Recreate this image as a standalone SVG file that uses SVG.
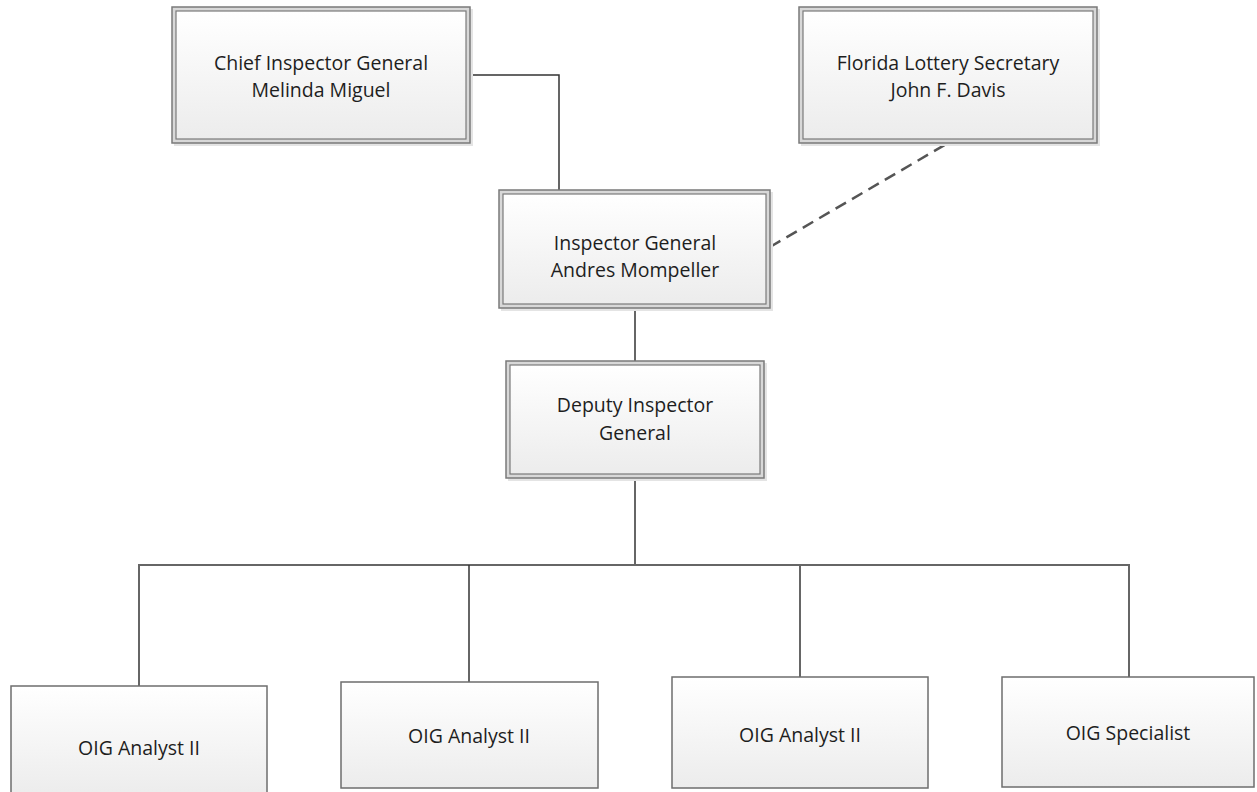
<svg xmlns="http://www.w3.org/2000/svg" width="1257" height="792" viewBox="0 0 1257 792">
<defs>
<linearGradient id="g" x1="0" y1="0" x2="0" y2="1">
<stop offset="0" stop-color="#ffffff"/>
<stop offset="1" stop-color="#ececec"/>
</linearGradient>
</defs>
<style>
.out{fill:#d8d8d8;stroke:#7a7a7a;stroke-width:1.5}
.in{fill:url(#g);stroke:#7a7a7a;stroke-width:1.2}
.box{fill:url(#g);stroke:#6e6e6e;stroke-width:1.5}
.sh{fill:#e4e4e4}
.t{font-family:"Open Sans","Liberation Sans",sans-serif;font-size:19.5px;fill:#1e1e1e;text-anchor:middle}
.c{fill:none;stroke:#333;stroke-width:1.5}
.cg{fill:none;stroke:#666;stroke-width:2}
.d{fill:none;stroke:#555;stroke-width:2.5;stroke-dasharray:12 7}
</style>
<rect width="1257" height="792" fill="#ffffff"/>
<g id="connectors">
<polyline class="c" points="470,75 559,75 559,191"/>
<line class="d" x1="770" y1="247" x2="948" y2="143"/>
<line class="cg" x1="635" y1="308" x2="635" y2="361"/>
<line class="c" x1="635" y1="478" x2="635" y2="565"/>
<polyline class="cg" points="139,686 139,565 1129,565 1129,677"/>
<line class="c" x1="469" y1="565" x2="469" y2="682"/>
<line class="cg" x1="800" y1="565" x2="800" y2="677"/>
</g>
<g id="chief">
<rect class="sh" x="174" y="9" width="299" height="137"/>
<rect class="out" x="172" y="7" width="298" height="136"/>
<rect class="in" x="176" y="11" width="290" height="128"/>
<text class="t" x="321" y="70">Chief Inspector General</text>
<text class="t" x="321" y="97">Melinda Miguel</text>
</g>
<g id="florida">
<rect class="sh" x="801" y="9" width="299" height="137"/>
<rect class="out" x="799" y="7" width="298" height="136"/>
<rect class="in" x="803" y="11" width="290" height="128"/>
<text class="t" x="948" y="70">Florida Lottery Secretary</text>
<text class="t" x="948" y="97">John F. Davis</text>
</g>
<g id="ig">
<rect class="sh" x="501" y="192" width="272" height="119"/>
<rect class="out" x="499" y="190" width="271" height="118"/>
<rect class="in" x="503" y="194" width="263" height="110"/>
<text class="t" x="635" y="250">Inspector General</text>
<text class="t" x="635" y="277">Andres Mompeller</text>
</g>
<g id="deputy">
<rect class="sh" x="508" y="363" width="259" height="118"/>
<rect class="out" x="506" y="361" width="258" height="117"/>
<rect class="in" x="510" y="365" width="250" height="109"/>
<text class="t" x="635" y="412">Deputy Inspector</text>
<text class="t" x="635" y="440">General</text>
</g>
<g id="analyst1">
<rect class="box" x="11" y="686" width="256" height="110"/>
<text class="t" x="139" y="755">OIG Analyst II</text>
</g>
<g id="analyst2">
<rect class="box" x="341" y="682" width="257" height="106"/>
<text class="t" x="469" y="743">OIG Analyst II</text>
</g>
<g id="analyst3">
<rect class="box" x="672" y="677" width="256" height="111"/>
<text class="t" x="800" y="742">OIG Analyst II</text>
</g>
<g id="specialist">
<rect class="box" x="1002" y="677" width="252" height="110"/>
<text class="t" x="1128" y="740">OIG Specialist</text>
</g>
</svg>
